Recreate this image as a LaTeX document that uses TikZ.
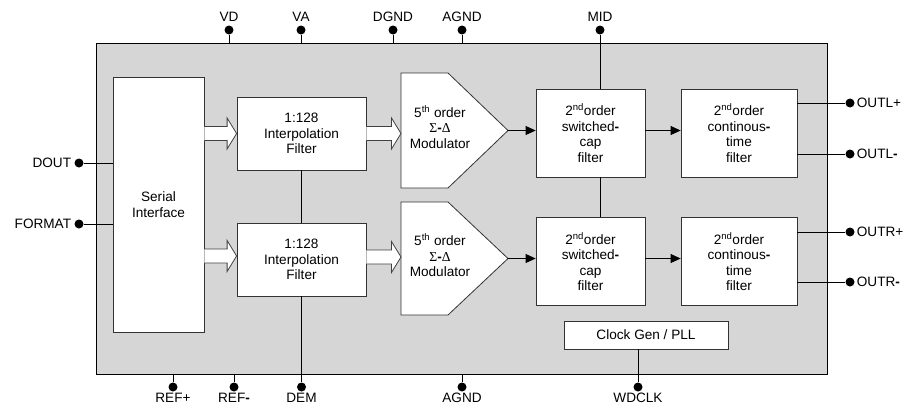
\documentclass[tikz,border=0pt]{standalone}
\usepackage{fontspec}
\setmainfont{Liberation Sans}
\newfontfamily\grk{Liberation Serif}
\usetikzlibrary{calc,arrows.meta}
\definecolor{chipgray}{HTML}{D6D6D6}
\newcommand\fatarr[2]{\filldraw[fat] let \p1=(#1), \p2=(#2) in
  (\x1,\y1+7pt) -- (\x2-9.5pt,\y1+7pt) -- (\x2-9.5pt,\y1+15.5pt) -- (\x2,\y1)
  -- (\x2-9.5pt,\y1-15.5pt) -- (\x2-9.5pt,\y1-7pt) -- (\x1,\y1-7pt);}
\begin{document}
\begin{tikzpicture}[x=1pt,y=-1pt,
  chip/.style={draw=black, fill=chipgray, line width=0.8pt, inner sep=0pt},
  blk/.style={draw=black!80, fill=white, line width=0.8pt, align=center, inner sep=0pt,
    font=\fontsize{13.6}{15.5}\selectfont},
  txt/.style={align=center, inner sep=0pt, font=\fontsize{13.6}{15.5}\selectfont},
  pin/.style={circle, fill=black, inner sep=0pt, minimum size=9pt},
  lbl/.style={font=\fontsize{13.6}{15.5}\selectfont, inner sep=2pt},
  wire/.style={line width=0.8pt, draw=black},
  arr/.style={wire, -{Triangle[length=10pt,width=9pt]}},
  fat/.style={draw=black!75, fill=white, line width=0.8pt}]
\useasboundingbox (0,0) rectangle (911,407);
% chip body
\node[chip, minimum width=731pt, minimum height=331pt] (chip) at (461.5,208.5) {};
% blocks
\node[blk, minimum width=91pt, minimum height=255pt] (si) at (158.5,204.5) {Serial\\Interface};
\node[blk, minimum width=129pt, minimum height=73pt] (ip1) at (301.5,133.5) {1:128\\Interpolation\\Filter};
\node[blk, minimum width=129pt, minimum height=73pt] (ip2) at (301.5,259.5) {1:128\\Interpolation\\Filter};
\node[blk, minimum width=109pt, minimum height=88pt] (sc1) at (590.5,133) {2\textsuperscript{nd}order\\switched\textbf{-}\\cap\\filter};
\node[blk, minimum width=109pt, minimum height=88pt] (sc2) at (590.5,261.5) {2\textsuperscript{nd}order\\switched\textbf{-}\\cap\\filter};
\node[blk, minimum width=116pt, minimum height=88pt] (ct1) at (739,133) {2\textsuperscript{nd}order\\continous\textbf{-}\\time\\filter};
\node[blk, minimum width=116pt, minimum height=88pt] (ct2) at (739,261.5) {2\textsuperscript{nd}order\\continous\textbf{-}\\time\\filter};
\node[blk, minimum width=164pt, minimum height=28pt] (clk) at (646,335) {Clock Gen / PLL};
% modulators
\coordinate (m1w) at (401,130.5);
\coordinate (m1tip) at (508,130.5);
\draw[blk] (401,73) -- (448,73) -- (m1tip) -- (448,188) -- (401,188) -- cycle;
\node[txt] (mod1) at (440,127) {5\textsuperscript{th} order\\{\grk Σ}\textbf{-}{\grk Δ}\\Modulator};
\coordinate (m2w) at (401,258.5);
\coordinate (m2tip) at (508,258.5);
\draw[blk] (401,202) -- (448,202) -- (m2tip) -- (448,315) -- (401,315) -- cycle;
\node[txt] (mod2) at (440,255.5) {5\textsuperscript{th} order\\{\grk Σ}\textbf{-}{\grk Δ}\\Modulator};
% fat arrows
\fatarr{si.east |- ip1.west}{ip1.west}
\fatarr{ip1.east}{ip1.east -| m1w}
\coordinate (fa2) at (0,256);
\fatarr{si.east |- fa2}{ip2.west |- fa2}
\coordinate (fa3) at (0,257);
\fatarr{ip2.east |- fa3}{m2w |- fa3}
% signal arrows
\draw[arr] (m1tip) -- (m1tip -| sc1.west);
\draw[arr] (sc1.east |- m1tip) -- (ct1.west |- m1tip);
\draw[arr] (m2tip) -- (m2tip -| sc2.west);
\draw[arr] (sc2.east |- m2tip) -- (ct2.west |- m2tip);
% pins
\node[pin, label={[lbl,label distance=1.5pt]above:VD}] (vd) at (229,30) {};
\node[pin, label={[lbl,label distance=1.5pt]above:VA}] (va) at (301,30) {};
\node[pin, label={[lbl,label distance=1.5pt]above:DGND}] (dgnd) at (393,30) {};
\node[pin, label={[lbl,label distance=1.5pt]above:AGND}] (agndt) at (462,30) {};
\node[pin, label={[lbl,label distance=1.5pt]above:MID}] (mid) at (600,30) {};
\node[pin, label={[lbl,inner sep=1pt,label distance=0pt]below:REF+}] (refp) at (173,387) {};
\node[pin, label={[lbl,inner sep=1pt,label distance=0pt]below:REF\textbf{-}}] (refm) at (234,387) {};
\node[pin, label={[lbl,inner sep=1pt,label distance=0pt]below:DEM}] (dem) at (301.5,387) {};
\node[pin, label={[lbl,inner sep=1pt,label distance=0pt]below:AGND}] (agndb) at (462,387) {};
\node[pin, label={[lbl,inner sep=1pt,label distance=0pt]below:WDCLK}] (wdclk) at (638,387) {};
\node[pin, label={[lbl,label distance=1pt]left:DOUT}] (dout) at (79,163) {};
\node[pin, label={[lbl,label distance=1pt]left:FORMAT}] (format) at (79,224) {};
\node[pin, label={[lbl,label distance=0pt]right:OUTL+}] (outlp) at (850,103) {};
\node[pin, label={[lbl,label distance=0pt]right:OUTL\textbf{-}}] (outlm) at (850,154) {};
\node[pin, label={[lbl,label distance=0pt]right:OUTR+}] (outrp) at (850,232) {};
\node[pin, label={[lbl,label distance=0pt]right:OUTR\textbf{-}}] (outrm) at (850,282) {};
% pin wires
\draw[wire] (vd) -- (vd |- chip.north);
\draw[wire] (va) -- (va |- chip.north);
\draw[wire] (dgnd) -- (dgnd |- chip.north);
\draw[wire] (agndt) -- (agndt |- chip.north);
\draw[wire] (mid) -- (mid |- sc1.north);
\draw[wire] (sc1.south -| mid) -- (sc2.north -| mid);
\draw[wire] (ip1.south) -- (ip2.north);
\draw[wire] (ip2.south) -- (dem);
\draw[wire] (refp) -- (refp |- chip.south);
\draw[wire] (refm) -- (refm |- chip.south);
\draw[wire] (agndb) -- (agndb |- chip.south);
\draw[wire] (clk.south -| wdclk) -- (wdclk);
\draw[wire] (dout) -- (dout -| si.west);
\draw[wire] (format) -- (format -| si.west);
\draw[wire] (ct1.east |- outlp) -- (outlp);
\draw[wire] (ct1.east |- outlm) -- (outlm);
\draw[wire] (ct2.east |- outrp) -- (outrp);
\draw[wire] (ct2.east |- outrm) -- (outrm);
\end{tikzpicture}
\end{document}
